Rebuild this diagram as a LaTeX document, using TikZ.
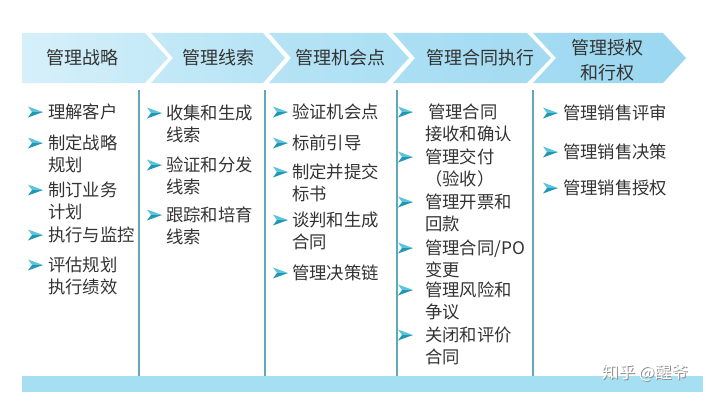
\documentclass[tikz,border=0pt]{standalone}
\usepackage{fontspec}
\setmainfont{Noto Sans CJK SC}
\usetikzlibrary{calc}

\definecolor{band}{HTML}{A6DFF2}
\definecolor{sepline}{HTML}{5FA9B8}
\definecolor{bulhi}{HTML}{5CC3DA}
\definecolor{bullo}{HTML}{1F97B5}
\definecolor{txt}{HTML}{333333}
\definecolor{chA}{HTML}{D6F0FA}
\definecolor{chB}{HTML}{C4E9F7}
\definecolor{chC}{HTML}{B6E3F5}
\definecolor{chD}{HTML}{ABDFF3}
\definecolor{chE}{HTML}{A3DBF2}
\definecolor{chF}{HTML}{9AD7F0}

\tikzset{
  head/.style={font=\fontsize{13.5}{19}\selectfont, text=txt, align=center, inner sep=0pt},
  itm/.style={font=\fontsize{13}{16.5}\selectfont, text=txt, align=left, anchor=base west, inner sep=0pt},
  sep/.style={draw=sepline, line width=0.9pt},
  bul/.pic={
    \fill[bulhi] (0,-5.5) -- (15,0) -- (4,0) -- cycle;
    \fill[bullo] (4,0) -- (15,0) -- (0,5.5) -- cycle;
  }
}

\begin{document}
\begin{tikzpicture}[x=0.75pt,y=-0.75pt]
  \useasboundingbox (0,0) rectangle (720,403);

  % chevrons
  \shade[left color=chA, right color=chB] (22,33) -- (145,33) -- (168,58) -- (145,83) -- (22,83) -- cycle;
  \shade[left color=chB, right color=chC] (151,33) -- (263,33) -- (285,58) -- (263,83) -- (151,83) -- (173,58) -- cycle;
  \shade[left color=chC, right color=chD] (269,33) -- (386,33) -- (409,58) -- (386,83) -- (269,83) -- (291,58) -- cycle;
  \shade[left color=chD, right color=chE] (393,33) -- (527,33) -- (551,58) -- (527,83) -- (393,83) -- (415,58) -- cycle;
  \shade[left color=chE, right color=chF] (533,33) -- (663,33) -- (686,58) -- (663,83) -- (533,83) -- (556,58) -- cycle;

  \node[head] (h1) at (82,58) {管理战略};
  \node[head] (h2) at (218,58) {管理线索};
  \node[head] (h3) at (340,58) {管理机会点};
  \node[head] (h4) at (480,58) {管理合同执行};
  \node[head] (h5) at (607,60) {管理授权\\和行权};

  % column rules and bottom band
  \foreach \x in {139,265,397,533}
    \draw[sep] (\x,90) -- (\x,377);
  \fill[band] (22,376) rectangle (703,392);

  % column 1 (base = last line)
  \node[itm] (a1) at (48,118.5) {理解客户};
  \node[itm] (a2) at (48,171.5) {制定战略\\规划};
  \node[itm] (a3) at (48,218.5) {制订业务\\计划};
  \node[itm] (a4) at (48,241.5) {执行与监控};
  \node[itm] (a5) at (48,293.5) {评估规划\\执行绩效};
  % column 2
  \node[itm] (b1) at (166,141.5) {收集和生成\\线索};
  \node[itm] (b2) at (166,193.5) {验证和分发\\线索};
  \node[itm] (b3) at (166,243.5) {跟踪和培育\\线索};
  % column 3
  \node[itm] (c1) at (292,118.5) {验证机会点};
  \node[itm] (c2) at (292,149.5) {标前引导};
  \node[itm] (c3) at (292,200.5) {制定并提交\\标书};
  \node[itm] (c4) at (292,248.5) {谈判和生成\\合同};
  \node[itm] (c5) at (292,279.5) {管理决策链};
  % column 4
  \node[itm] (d1) at (425,140.5) {\,管理合同\\接收和确认};
  \node[itm] (d2) at (425,185.5) {管理交付\\（验收）};
  \node[itm] (d3) at (425,230.5) {管理开票和\\回款};
  \node[itm] (d4) at (425,276.5) {管理合同/PO\\变更};
  \node[itm] (d5) at (425,318.5) {管理风险和\\争议};
  \node[itm] (d6) at (425,363.5) {关闭和评价\\合同};
  % column 5
  \node[itm] (e1) at (563,119.5) {管理销售评审};
  \node[itm] (e2) at (563,158.5) {管理销售决策};
  \node[itm] (e3) at (563,194.5) {管理销售授权};

  % bullets, at the first line of each item
  \foreach \n/\d/\l in {a1/20/0,a2/20/1,a3/20/1,a4/20/0,a5/20/1,b1/19/1,b2/19/1,b3/19/1,
                        c1/19/0,c2/19/0,c3/19/1,c4/19/1,c5/19/0,
                        d1/27/1,d2/27/1,d3/27/1,d4/27/1,d5/27/1,d6/27/1,e1/20/0,e2/20/0,e3/20/0}
    \pic at ($(\n.base west)+(-\d,-6.5-22*\l)$) {bul};

  % watermark
  \node[font=\fontsize{12.5}{14}\selectfont, text=black!45, inner sep=0pt] (wm0) at (646,374) {知乎 @醒爷};
  \node[font=\fontsize{12.5}{14}\selectfont, text=white, inner sep=0pt] (wm) at (645,373) {知乎 @醒爷};
\end{tikzpicture}
\end{document}
